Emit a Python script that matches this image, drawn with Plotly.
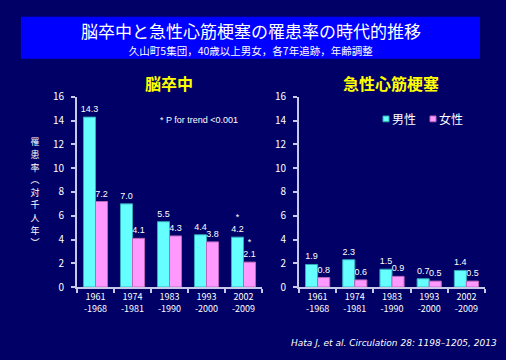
import plotly.graph_objects as go

periods = ["1961<br>-1968", "1974<br>-1981", "1983<br>-1990", "1993<br>-2000", "2002<br>-2009"]
stroke_men = [14.3, 7.0, 5.5, 4.4, 4.2]
stroke_women = [7.2, 4.1, 4.3, 3.8, 2.1]
stroke_men_sig = ["", "", "", "", "*"]
stroke_women_sig = ["", "", "", "", "*"]
ami_men = [1.9, 2.3, 1.5, 0.7, 1.4]
ami_women = [0.8, 0.6, 0.9, 0.5, 0.5]
y_ticks = [0, 2, 4, 6, 8, 10, 12, 14, 16]
y_label_chars = list("罹患率︵対千人年︶")

BG = "#000066"
MEN = "#66FFFF"
WOMEN = "#FF99FF"
AXC = "#C8C8E8"
FONT = "Noto Sans CJK JP"


def labels(vals, sig=None):
    out = []
    for i, v in enumerate(vals):
        s = sig[i] if sig else ""
        out.append(f"{s}<br>{v:.1f}" if s else f"{v:.1f}")
    return out


fig = go.Figure()
for vals, sig, col, lc, xa, ya in [
    (stroke_men, stroke_men_sig, MEN, "#33AABB", "x", "y"),
    (stroke_women, stroke_women_sig, WOMEN, "#BB66BB", "x", "y"),
    (ami_men, None, MEN, "#33AABB", "x2", "y2"),
    (ami_women, None, WOMEN, "#BB66BB", "x2", "y2"),
]:
    fig.add_trace(go.Bar(
        x=periods, y=vals, xaxis=xa, yaxis=ya,
        marker=dict(color=col, line=dict(color=lc, width=1)),
        text=labels(vals, sig), textposition="outside", cliponaxis=False,
        constraintext="none",
        textfont=dict(color="white", size=9, family="Liberation Sans"),
        showlegend=False, hoverinfo="skip",
    ))

ax_common = dict(
    showline=True, linecolor=AXC, linewidth=2, showgrid=False, zeroline=False,
    ticks="outside", ticklen=4, tickcolor=AXC, tickwidth=2,
)
xfont = dict(color="white", size=9, family=FONT)
yfont = dict(color="white", size=10, family=FONT)
ydom = [1 - 291 / 360, 1 - 92 / 360]
fig.update_layout(
    width=506, height=360,
    margin=dict(l=0, r=0, t=0, b=0),
    paper_bgcolor=BG, plot_bgcolor=BG,
    bargap=0.35, bargroupgap=0, barmode="group",
    font=dict(family=FONT, color="white"),
    xaxis=dict(domain=[77 / 506, 262 / 506], anchor="y", tickson="boundaries",
               tickfont=xfont, **ax_common),
    yaxis=dict(domain=ydom, anchor="x", range=[0, 16], tickvals=y_ticks,
               ticklabelstandoff=5, tickfont=yfont, **ax_common),
    xaxis2=dict(domain=[299 / 506, 485 / 506], anchor="y2", tickson="boundaries",
                tickfont=xfont, **ax_common),
    yaxis2=dict(domain=ydom, anchor="x2", range=[0, 16], tickvals=y_ticks,
                ticklabelstandoff=5, tickfont=yfont, **ax_common),
)

# title box
fig.add_shape(type="rect", xref="paper", yref="paper",
              x0=21 / 506, x1=480 / 506, y0=1 - 52 / 360, y1=1 - 8 / 360,
              fillcolor="#0000FF", line=dict(width=0), layer="below")


def px_annot(text, x, y, size, color="white", xanchor="center", bold=False, italic=False,
             family=FONT, width=300):
    if bold:
        text = f"<b>{text}</b>"
    fig.add_annotation(text=text, xref="paper", yref="paper", x=x / 506, y=1 - y / 360,
                       xanchor=xanchor, yanchor="middle", showarrow=False,
                       width=width, align=xanchor if xanchor != "center" else "center",
                       borderpad=0,
                       font=dict(size=size, color=color, family=family,
                                 style="italic" if italic else "normal"))


px_annot("脳卒中と急性心筋梗塞の罹患率の時代的推移", 251, 23, 17, width=480)
px_annot("久山町5集団，40歳以上男女，各7年追跡，年齢調整", 251, 43, 10.5, width=480)
px_annot("脳卒中", 169, 77, 16, color="#FFFF00", bold=True, width=120)
px_annot("急性心筋梗塞", 391, 77, 16, color="#FFFF00", bold=True, width=150)
px_annot("* P for trend &lt;0.001", 199, 116, 9, family="Liberation Sans", width=120)
for i, ch in enumerate(y_label_chars):
    px_annot(ch, 35, 139 + i * 13.2, 9, width=14)
px_annot("Hata J, et al. Circulation 28: 1198–1205, 2013", 498, 350, 9,
         xanchor="right", italic=True, family="DejaVu Sans", width=300)

# legend
for lx, col, lc, name in [(386, MEN, "#33AABB", "男性"), (433, WOMEN, "#BB66BB", "女性")]:
    fig.add_shape(type="rect", xref="paper", yref="paper",
                  x0=(lx - 3) / 506, x1=(lx + 3) / 506,
                  y0=1 - (115 + 3) / 360, y1=1 - (115 - 3) / 360,
                  fillcolor=col, line=dict(color=lc, width=1))
    px_annot(name, lx + 5, 115, 12, xanchor="left", width=30)

fig.write_html(
    "out.html",
    config={"displayModeBar": False},
    post_script="document.body.style.margin='0';document.body.style.overflow='hidden';",
)
